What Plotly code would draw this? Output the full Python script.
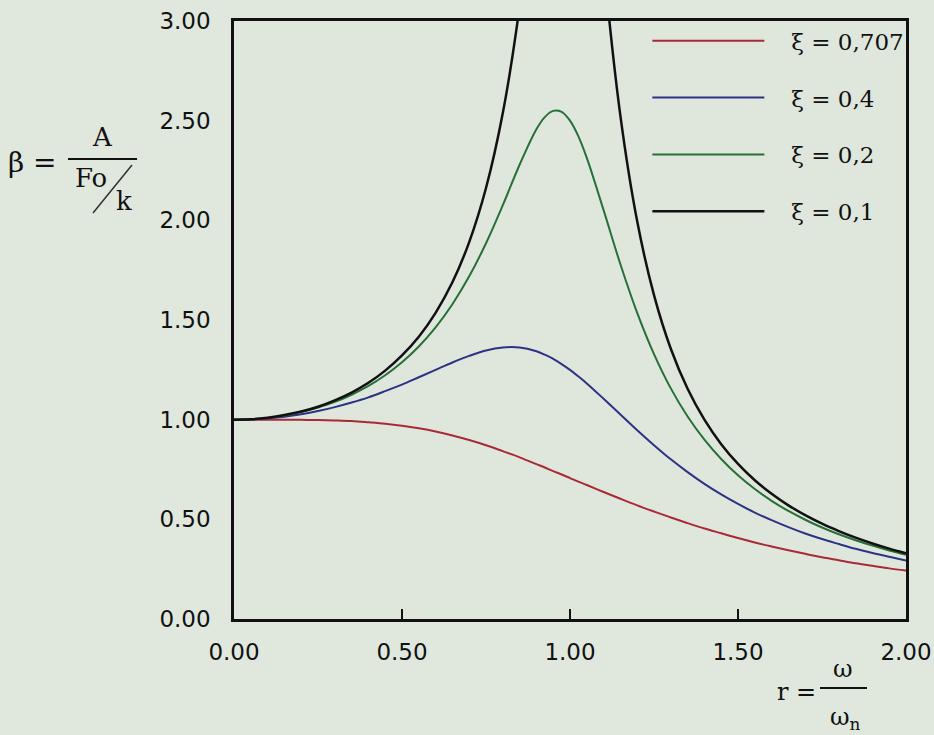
import plotly.graph_objects as go

# frequency ratio r = omega / omega_n
r = [0.00, 0.05, 0.10, 0.15, 0.20, 0.25, 0.30, 0.35, 0.40, 0.45,
     0.50, 0.55, 0.60, 0.65, 0.70, 0.75, 0.80, 0.85, 0.90, 0.925, 0.95, 0.975,
     1.00, 1.025, 1.05, 1.10, 1.15, 1.20, 1.25, 1.30, 1.35, 1.40, 1.45,
     1.50, 1.55, 1.60, 1.65, 1.70, 1.75, 1.80, 1.85, 1.90, 1.95, 2.00]

beta_0707 = [1.000, 1.000, 1.000, 1.000, 0.999, 0.998, 0.996, 0.993, 0.987, 0.980,
             0.970, 0.957, 0.941, 0.921, 0.898, 0.872, 0.842, 0.811, 0.777, 0.760, 0.742, 0.725,
             0.707, 0.689, 0.672, 0.637, 0.603, 0.570, 0.539, 0.509, 0.481, 0.454, 0.430,
             0.406, 0.384, 0.364, 0.345, 0.327, 0.310, 0.295, 0.280, 0.267, 0.254, 0.243]

beta_04 = [1.000, 1.002, 1.007, 1.015, 1.027, 1.043, 1.063, 1.086, 1.112, 1.143,
           1.176, 1.213, 1.250, 1.287, 1.320, 1.347, 1.362, 1.362, 1.343, 1.326, 1.305, 1.279,
           1.250, 1.217, 1.182, 1.105, 1.026, 0.947, 0.872, 0.801, 0.737, 0.678, 0.625,
           0.577, 0.534, 0.496, 0.461, 0.429, 0.401, 0.376, 0.352, 0.331, 0.312, 0.294]

beta_02 = [1.000, 1.002, 1.009, 1.021, 1.038, 1.061, 1.089, 1.125, 1.169, 1.223,
           1.288, 1.367, 1.463, 1.579, 1.719, 1.885, 2.076, 2.279, 2.457, 2.518, 2.549, 2.544,
           2.500, 2.421, 2.313, 2.051, 1.780, 1.536, 1.329, 1.157, 1.016, 0.900, 0.803,
           0.721, 0.652, 0.593, 0.542, 0.498, 0.459, 0.425, 0.395, 0.368, 0.344, 0.322]

beta_01 = [1.000, 1.002, 1.010, 1.023, 1.041, 1.065, 1.097, 1.136, 1.185, 1.246,
           1.322, 1.416, 1.536, 1.689, 1.891, 2.162, 2.538, 3.073, 3.821, 4.261, 4.683, 4.971,
           5.000, 4.736, 4.279, 3.288, 2.524, 1.995, 1.625, 1.356, 1.155, 1.000, 0.877,
           0.778, 0.696, 0.628, 0.570, 0.521, 0.478, 0.441, 0.408, 0.379, 0.353, 0.330]

series_names = ["ξ = 0,707", "ξ = 0,4", "ξ = 0,2", "ξ = 0,1"]
series_values = [beta_0707, beta_04, beta_02, beta_01]
series_colors = ["#a82a36", "#2c3384", "#267038", "#111111"]
series_widths = [2, 2, 2, 2.5]

tick_vals_x = [0, 0.5, 1.0, 1.5, 2.0]
tick_text_x = ["0.00", "0.50", "1.00", "1.50", "2.00"]
tick_vals_y = [0, 0.5, 1.0, 1.5, 2.0, 2.5, 3.0]
tick_text_y = ["0.00", "0.50", "1.00", "1.50", "2.00", "2.50", "3.00"]

NB = "\u00a0"

fig = go.Figure()
for i, (name, vals, col, w) in enumerate(zip(series_names, series_values, series_colors, series_widths)):
    fig.add_trace(go.Scatter(
        x=r, y=vals, mode="lines", name=NB * 3 + name, legendgroup=f"g{i}",
        line=dict(color=col, width=w, shape="spline", smoothing=1.0),
    ))

W, H = 934, 735
L, R, T, B = 234, 28, 21, 116
pw, ph = W - L - R, H - T - B


def px(xp):
    return (xp - L) / pw


def py(yp):
    return (H - B - yp) / ph


serif = "DejaVu Serif"
sans = "DejaVu Sans"
BG = "#e0e8de"

fig.update_layout(
    width=W, height=H,
    margin=dict(l=L, r=R, t=T, b=B, autoexpand=False),
    paper_bgcolor=BG,
    plot_bgcolor="#dfe7dd",
    showlegend=True,
    legend=dict(
        x=1.005, xanchor="right", y=1.003, yanchor="top",
        bgcolor="rgba(0,0,0,0)", borderwidth=0,
        font=dict(family=serif, size=23, color="#111111"),
        itemwidth=112, tracegroupgap=24,
        traceorder="grouped",
    ),
    xaxis=dict(
        range=[0, 2], tickvals=tick_vals_x, ticktext=tick_text_x,
        showgrid=False, zeroline=False, automargin=False,
        showline=True, linecolor="#111111", linewidth=2.5, mirror=True,
        ticks="inside", ticklen=10, tickwidth=2, tickcolor="#111111",
        ticklabelstandoff=11,
        tickfont=dict(family=sans, size=23, color="#111111"),
    ),
    yaxis=dict(
        range=[0, 3], tickvals=tick_vals_y, ticktext=tick_text_y,
        showgrid=False, zeroline=False, automargin=False,
        showline=True, linecolor="#111111", linewidth=2.5, mirror=True,
        ticks="", ticklabelstandoff=16,
        tickfont=dict(family=sans, size=23, color="#111111"),
    ),
)

anns = [
    ("β =", 32, 163, 28),
    ("A", 102, 137, 26),
    ("Fo", 91, 178, 26),
    ("k", 124, 201, 26),
    ("r =", 796, 692, 24),
    ("ω", 843, 669, 24),
    ("ω<sub>n</sub>", 845, 718, 24),
]
for text, xx, yy, fs in anns:
    fig.add_annotation(
        text=text, xref="paper", yref="paper", x=px(xx), y=py(yy),
        xanchor="center", yanchor="middle", showarrow=False,
        font=dict(family=serif, size=fs, color="#111111"),
    )

# fraction bars and slash
fig.add_shape(type="line", xref="paper", yref="paper",
              x0=px(68), x1=px(137), y0=py(159), y1=py(159),
              line=dict(color="#111111", width=2))
fig.add_shape(type="line", xref="paper", yref="paper",
              x0=px(132), x1=px(93), y0=py(165), y1=py(213),
              line=dict(color="#333333", width=1.5))
fig.add_shape(type="line", xref="paper", yref="paper",
              x0=px(820), x1=px(867), y0=py(688), y1=py(688),
              line=dict(color="#111111", width=2))

fig.write_html(
    "out.html",
    config={"displayModeBar": False},
    post_script="document.body.style.margin='0';document.body.style.overflow='hidden';document.body.style.background='" + BG + "';",
)
